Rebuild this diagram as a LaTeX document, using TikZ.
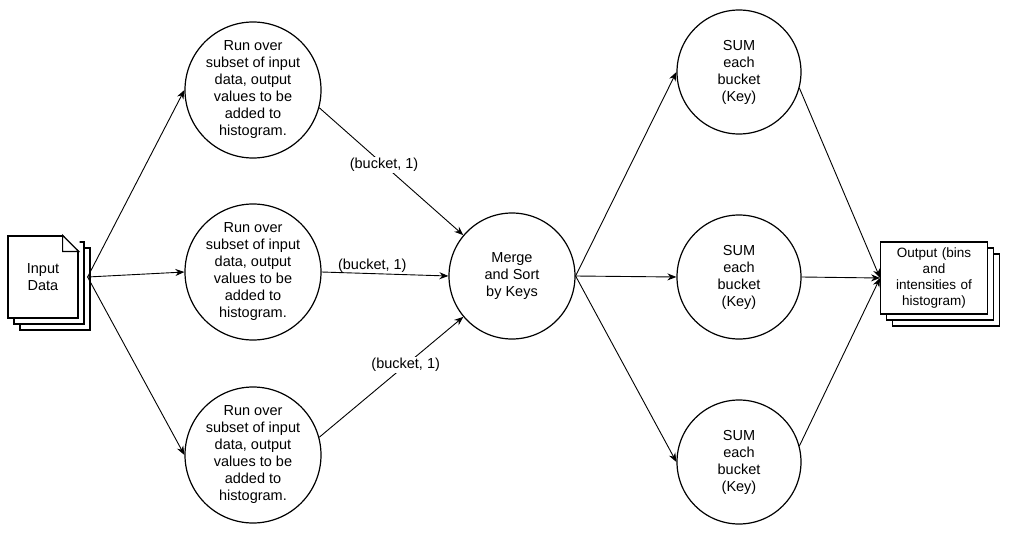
\documentclass[tikz,border=0pt]{standalone}
\usepackage{fontspec}
\setmainfont{Liberation Sans}
\usetikzlibrary{shadows,arrows.meta}
\tikzset{
  proc/.style={draw, circle, minimum size=136pt, align=center, inner sep=0pt, fill=white},
  small/.style={draw, circle, minimum size=124pt, align=center, inner sep=0pt, fill=white},
  doc/.style={draw, fill=white, align=center, double copy shadow={shadow xshift=6pt, shadow yshift=-6pt, draw, fill=white}},
  flow/.style={-{Stealth[length=9pt,width=7pt]}, line width=0.9pt},
}
\begin{document}
\begin{tikzpicture}[x=1pt, y=-1pt, line width=1.2pt, font=\fontsize{14.5}{17}\selectfont]
\useasboundingbox (0,0) rectangle (1010,554);
% input and output
\node [doc, minimum width=70pt, minimum height=82pt] (in) at (43,277) {Input\\Data};
\fill [white] ([xshift=-16pt,yshift=1pt]in.north east) -- ([xshift=1pt,yshift=1pt]in.north east) -- ([xshift=1pt,yshift=-16pt]in.north east) -- cycle;
\draw [fill=white] ([xshift=-16pt]in.north east) -- ([xshift=-16pt,yshift=-16pt]in.north east) -- ([yshift=-16pt]in.north east) -- cycle;
\node [doc, minimum width=104pt, minimum height=72pt, text width=100pt, font=\fontsize{13.5}{16}\selectfont] (out) at (934,278) {Output (bins\\and\\intensities of\\histogram)};
% map circles
\node [proc] (m1) at (253,90) {Run over\\subset of input\\data, output\\values to be\\added to\\histogram.};
\node [proc] (m2) at (253,272) {Run over\\subset of input\\data, output\\values to be\\added to\\histogram.};
\node [proc] (m3) at (253,455) {Run over\\subset of input\\data, output\\values to be\\added to\\histogram.};
% merge
\node [draw, circle, minimum size=126pt, align=center] (merge) at (512,276) {Merge\\and Sort\\by Keys};
% reduce circles
\node [small] (s1) at (739,72) {SUM\\each\\bucket\\(Key)};
\node [small] (s2) at (739,277) {SUM\\each\\bucket\\(Key)};
\node [small] (s3) at (739,462) {SUM\\each\\bucket\\(Key)};
% connectors
\coordinate (inR) at ([xshift=9pt]in.east);
\draw [flow] (inR) -- (m1.west);
\draw [flow] (inR) -- (m2.west);
\draw [flow] (inR) -- (m3.west);
\draw [flow] (m1.-15) -- node [pos=0.45, fill=white, inner sep=1pt] {(bucket, 1)} (merge.140);
\draw [flow] (m2.east) -- node [pos=0.4, above, inner sep=1pt] {(bucket, 1)} (merge.west);
\draw [flow] (m3.15) -- node [pos=0.6, fill=white, inner sep=1pt] {(bucket, 1)} (merge.-140);
\draw [flow] (merge.east) -- (s1.west);
\draw [flow] (merge.east) -- (s2.west);
\draw [flow] (merge.east) -- (s3.west);
\draw [flow] (s1.-15) -- (out.west);
\draw [flow] (s2.east) -- (out.west);
\draw [flow] (s3.15) -- (out.west);
\end{tikzpicture}
\end{document}
